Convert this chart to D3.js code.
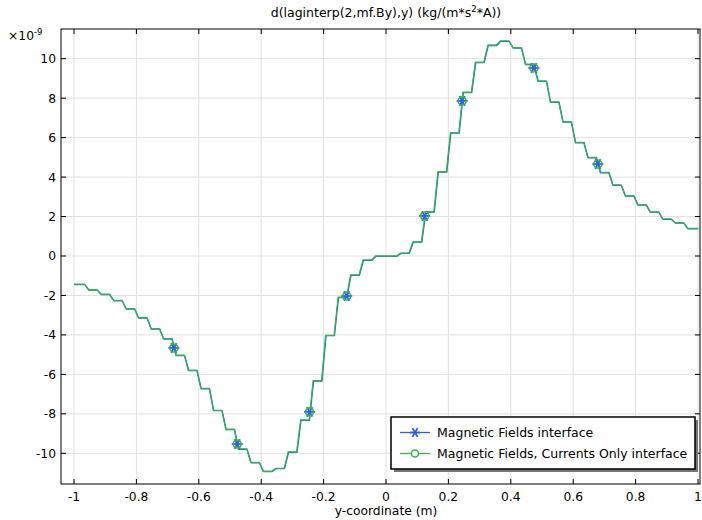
<!DOCTYPE html>
<html>
<head>
<meta charset="utf-8">
<script src="https://cdn.jsdelivr.net/npm/d3@7"></script>
<style>
  body { margin: 0; background: #fff; }
  text { font-family: "DejaVu Sans", sans-serif; fill: #000; }
</style>
</head>
<body>
<div id="chart"></div>
<script>
// element nodes along y (m)
const nodes = [-1, -0.96, -0.92, -0.88, -0.84, -0.8, -0.76, -0.72, -0.68, -0.64,
  -0.6, -0.56, -0.52, -0.48, -0.44, -0.4, -0.36, -0.32, -0.28, -0.24,
  -0.2, -0.16, -0.12, -0.08, -0.04, 0, 0.04, 0.08, 0.12, 0.16,
  0.2, 0.24, 0.28, 0.32, 0.36, 0.4, 0.44, 0.48, 0.52, 0.56,
  0.6, 0.64, 0.68, 0.72, 0.76, 0.8, 0.84, 0.88, 0.92, 0.96, 1];

// derivative value on each element (x1e-9)
const mfLevels = [-1.43, -1.71, -1.94, -2.25, -2.67, -3.13, -3.68, -4.19, -5.03, -5.79,
  -6.71, -7.82, -8.78, -9.78, -10.46, -10.91, -10.76, -9.93, -8.31, -6.32,
  -4.02, -2.09, -0.96, -0.20, 0.0, 0.0, 0.15, 0.72, 2.25, 4.27,
  6.25, 8.30, 9.82, 10.69, 10.90, 10.56, 9.72, 8.87, 7.81, 6.81,
  5.76, 5.00, 4.24, 3.60, 3.06, 2.60, 2.23, 1.88, 1.69, 1.40];
const mfcLevels = [-1.43, -1.71, -1.94, -2.25, -2.67, -3.13, -3.68, -4.19, -5.03, -5.79,
  -6.71, -7.82, -8.78, -9.78, -10.46, -10.91, -10.76, -9.93, -8.31, -6.32,
  -4.02, -2.09, -0.96, -0.20, 0.0, 0.0, 0.15, 0.72, 2.25, 4.27,
  6.25, 8.30, 9.82, 10.69, 10.90, 10.56, 9.72, 8.87, 7.81, 6.81,
  5.76, 5.00, 4.24, 3.60, 3.06, 2.60, 2.23, 1.88, 1.69, 1.40];

// marker positions
const markerX = [-0.68, -0.477, -0.245, -0.126, 0.124, 0.244, 0.474, 0.679];
const markerY = [-4.66, -9.53, -7.9, -2.03, 2.03, 7.86, 9.53, 4.66];

const xTicks = [-1, -0.8, -0.6, -0.4, -0.2, 0, 0.2, 0.4, 0.6, 0.8, 1];
const yTicks = [-10, -8, -6, -4, -2, 0, 2, 4, 6, 8, 10];
const seriesNames = ["Magnetic Fields interface", "Magnetic Fields, Currents Only interface"];

const W = 702, H = 520;
const plot = { left: 61, right: 700, top: 29, bottom: 484 };
const blue = "#2f5df0", green = "#35b34f";

const x = d3.scaleLinear().domain([-1.0417, 1.0064]).range([plot.left, plot.right]);
const y = d3.scaleLinear().domain([-11.556, 11.505]).range([plot.bottom, plot.top]);

const svg = d3.select("#chart").append("svg")
    .attr("width", W)
    .attr("height", H);

// grid
svg.append("g").selectAll("line").data(xTicks).enter().append("line")
    .attr("x1", d => x(d)).attr("x2", d => x(d))
    .attr("y1", plot.top).attr("y2", plot.bottom)
    .attr("stroke", "#e1e1e1").attr("stroke-width", 1);
svg.append("g").selectAll("line").data(yTicks).enter().append("line")
    .attr("x1", plot.left).attr("x2", plot.right)
    .attr("y1", d => y(d)).attr("y2", d => y(d))
    .attr("stroke", "#e1e1e1").attr("stroke-width", 1);

// staircase: flat on each element, short ramp across each node
function stairs(levels) {
    const r = 0.0065;
    const pts = [];
    for (let k = 0; k < levels.length; k++) {
        const a = k === 0 ? nodes[k] : nodes[k] + r;
        const b = k === levels.length - 1 ? nodes[k + 1] : nodes[k + 1] - r;
        pts.push([a, levels[k]], [b, levels[k]]);
    }
    return pts;
}

const line = d3.line().x(d => x(d[0])).y(d => y(d[1]));

svg.append("path")
    .attr("d", line(stairs(mfLevels)))
    .attr("fill", "none").attr("stroke", blue).attr("stroke-width", 1.3)
    .attr("transform", "translate(0.4,0.4)");
svg.append("path")
    .attr("d", line(stairs(mfcLevels)))
    .attr("fill", "none").attr("stroke", green).attr("stroke-width", 1.3);

function star(g, cx, cy, s) {
    const angles = [0, 60, 120];
    angles.forEach(function (a) {
        const rad = a * Math.PI / 180;
        g.append("line")
            .attr("x1", cx - s * Math.cos(rad)).attr("y1", cy - s * Math.sin(rad))
            .attr("x2", cx + s * Math.cos(rad)).attr("y2", cy + s * Math.sin(rad))
            .attr("stroke", blue).attr("stroke-width", 1.8);
    });
}

const markers = svg.append("g");
markerX.forEach(function (mx, i) {
    star(markers, x(mx), y(markerY[i]), 5.5);
});
markers.selectAll("circle").data(markerX).enter().append("circle")
    .attr("cx", d => x(d))
    .attr("cy", (d, i) => y(markerY[i]))
    .attr("r", 4)
    .attr("fill", "none").attr("stroke", green).attr("stroke-width", 1.6);

// frame
svg.append("rect")
    .attr("x", plot.left).attr("y", plot.top)
    .attr("width", plot.right - plot.left).attr("height", plot.bottom - plot.top)
    .attr("fill", "none").attr("stroke", "#000").attr("stroke-width", 1);

// ticks
const tk = svg.append("g").attr("stroke", "#000").attr("stroke-width", 1);
xTicks.forEach(function (t) {
    tk.append("line").attr("x1", x(t)).attr("x2", x(t)).attr("y1", plot.bottom).attr("y2", plot.bottom - 5);
    tk.append("line").attr("x1", x(t)).attr("x2", x(t)).attr("y1", plot.top).attr("y2", plot.top + 5);
});
yTicks.forEach(function (t) {
    tk.append("line").attr("x1", plot.left).attr("x2", plot.left + 5).attr("y1", y(t)).attr("y2", y(t));
    tk.append("line").attr("x1", plot.right).attr("x2", plot.right - 5).attr("y1", y(t)).attr("y2", y(t));
});

function fmt(d) {
    return d === 0 ? "0" : String(+d.toFixed(1));
}

svg.append("g").selectAll("text").data(xTicks).enter().append("text")
    .attr("x", d => x(d)).attr("y", 501)
    .attr("text-anchor", "middle").attr("font-size", 12.3)
    .text(fmt);
svg.append("g").selectAll("text").data(yTicks).enter().append("text")
    .attr("x", 56).attr("y", d => y(d) + 4.5)
    .attr("text-anchor", "end").attr("font-size", 12.3)
    .text(fmt);

// exponent label
const ex = svg.append("text").attr("x", 8).attr("y", 39.5).attr("font-size", 12.3);
ex.append("tspan").text("×10");
ex.append("tspan").attr("dy", -5).attr("font-size", 8.5).text("-9");

// title
const title = svg.append("text").attr("x", 386).attr("y", 17)
    .attr("text-anchor", "middle").attr("font-size", 12.5);
title.append("tspan").text("d(laginterp(2,mf.By),y) (kg/(m*s");
title.append("tspan").attr("dy", -5).attr("font-size", 8.5).text("2");
title.append("tspan").attr("dy", 5).text("*A))");

svg.append("text").attr("x", 386).attr("y", 515)
    .attr("text-anchor", "middle").attr("font-size", 12.3)
    .text("y-coordinate (m)");

// legend
const lg = { x: 391, y: 417, w: 304, h: 52 };
svg.append("rect").attr("x", lg.x + 3).attr("y", lg.y + 3).attr("width", lg.w).attr("height", lg.h)
    .attr("fill", "#777");
svg.append("rect").attr("x", lg.x).attr("y", lg.y).attr("width", lg.w).attr("height", lg.h)
    .attr("fill", "#fff").attr("stroke", "#000").attr("stroke-width", 1.5);

const rows = [lg.y + 15.5, lg.y + 36.5];
svg.append("line").attr("x1", 400).attr("x2", 430).attr("y1", rows[0]).attr("y2", rows[0])
    .attr("stroke", blue).attr("stroke-width", 1.3);
star(svg, 415, rows[0], 5);
svg.append("line").attr("x1", 400).attr("x2", 430).attr("y1", rows[1]).attr("y2", rows[1])
    .attr("stroke", green).attr("stroke-width", 1.3);
svg.append("circle").attr("cx", 415).attr("cy", rows[1]).attr("r", 3.5)
    .attr("fill", "#fff").attr("stroke", green).attr("stroke-width", 1.5);

svg.append("g").selectAll("text").data(seriesNames).enter().append("text")
    .attr("x", 437).attr("y", (d, i) => rows[i] + 4.5)
    .attr("font-size", 12.5)
    .text(d => d);
</script>
</body>
</html>
